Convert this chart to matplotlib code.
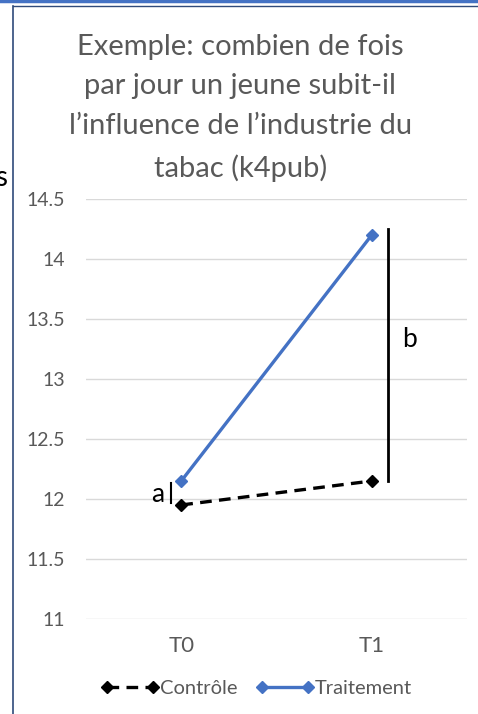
import matplotlib.pyplot as plt
from matplotlib.lines import Line2D

plt.rcParams['font.family'] = ['Lato', 'DejaVu Sans']

categories = ['T0', 'T1']
controle = [11.95, 12.15]
traitement = [12.15, 14.2]

title = "Exemple: combien de fois\npar jour un jeune subit-il\nl\u2019influence de l\u2019industrie du\ntabac (k4pub)"

# annotation brackets (x in category units, y in data units)
b_x, b_y0, b_y1 = 1.085, 12.15, 14.25
a_x, a_y0, a_y1 = -0.055, 11.97, 12.13

GRAY = '#595959'
BLUE = '#4472C4'

fig = plt.figure(figsize=(4.78, 7.14), dpi=100)
ax = fig.add_axes([0.18, 0.1331, 0.797, 0.5882])

x = range(len(categories))
ax.plot(x, controle, color='black', lw=2.4, ls=(0, (3.5, 2.2)),
        marker='D', ms=6, label='Contrôle')
ax.plot(x, traitement, color=BLUE, lw=2.4,
        marker='D', ms=6, label='Traitement')

ax.plot([b_x, b_x], [b_y0, b_y1], color='black', lw=2)
ax.text(b_x + 0.115, 13.33, 'b', fontsize=19, ha='center', va='center')
ax.plot([a_x, a_x], [a_y0, a_y1], color='black', lw=1.5)
ax.text(a_x - 0.07, 12.04, 'a', fontsize=19, ha='center', va='center')

ax.set_xlim(-0.5, 1.5)
ax.set_ylim(11, 14.5)
ax.set_yticks([11, 11.5, 12, 12.5, 13, 13.5, 14, 14.5])
ax.set_yticklabels(['11', '11.5', '12', '12.5', '13', '13.5', '14', '14.5'])
ax.set_xticks(list(x))
ax.set_xticklabels(categories)
ax.tick_params(length=0, labelsize=14, colors=GRAY, pad=15)
ax.tick_params(axis='x', pad=12, labelsize=16)
ax.grid(axis='y', color='#D9D9D9', lw=1)
ax.set_axisbelow(True)
for s in ax.spines.values():
    s.set_visible(False)

fig.text(0.503, 0.953, title, ha='center', va='top', fontsize=21,
         color=GRAY, linespacing=1.66)

ax.legend(loc='center', bbox_to_anchor=(0.447, -0.165), ncol=2, frameon=False,
          numpoints=2, fontsize=14.5, handlelength=2.9, handletextpad=0.05,
          columnspacing=0.9, labelcolor=GRAY)

# screenshot frame
fig.add_artist(Line2D([0, 1], [0.998, 0.998], color=BLUE, lw=2.5))
fig.add_artist(Line2D([0.027, 1], [0.991, 0.991], color='#2F4A7A', lw=1))
fig.add_artist(Line2D([0.028, 0.028], [0, 0.991], color='#2F4A7A', lw=1.2))
fig.text(-0.01, 0.75, 's', fontsize=20, color='black', ha='left', va='center')

fig.savefig('out.png', dpi=100)
